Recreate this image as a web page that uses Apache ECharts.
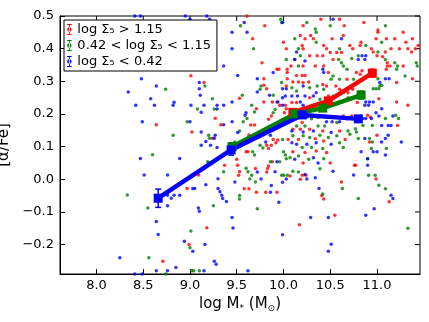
<!DOCTYPE html>
<html>
<head>
<meta charset="utf-8">
<script src="https://cdn.jsdelivr.net/npm/echarts@6/dist/echarts.min.js"></script>
<style>
html,body{margin:0;padding:0;background:#fff}
#main{width:429px;height:322px}
</style>
</head>
<body>
<div id="main"></div>
<script>
// galaxies, [log M*, [alpha/Fe]], split by environment density
const redPts=[
[9.10,0.347],[9.01,0.317],[9.15,0.296],[9.27,0.187],[8.64,0.167],[9.33,0.167],[9.02,0.145],[9.24,0.126],[9.37,0.043],[9.09,0.013],
[8.97,-0.028],[9.18,-0.148],[8.99,-0.20],[8.71,-0.251],[9.61,0.50],
[9.80,0.47],[9.67,0.43],[10.0,0.42],[10.03,0.40],[9.77,0.357],[9.93,0.337],[9.95,0.337],[10.04,0.337],[10.04,0.327],[9.79,0.308],
[10.04,0.308],[9.79,0.288],[9.82,0.277],[10.03,0.286],[9.53,0.248],[9.88,0.237],[9.93,0.237],[9.96,0.227],[9.79,0.237],[9.71,0.216],
[10.02,0.227],[10.03,0.216],[10.01,0.204],[9.65,0.166],[9.69,0.166],[9.84,0.184],[9.87,0.194],[9.63,0.136],[9.89,0.122],[9.94,0.12],
[9.92,0.112],[10.05,0.122],[9.82,0.104],[9.84,0.094],[9.60,0.084],[9.62,0.084],[9.87,0.104],[9.88,0.054],[9.84,0.041],[9.50,0.061],
[9.51,0.043],[9.53,0.023],[9.52,0.012],[9.70,0.033],[9.82,0.022],[9.83,0.033],[9.58,-0.029],[9.63,-0.029],[9.71,-0.04],[9.81,-0.04],[9.93,-0.04],
[10.40,0.49],[10.60,0.49],[10.21,0.47],[10.65,0.47],[10.18,0.44],[10.23,0.43],[10.29,0.44],[10.32,0.43],[10.52,0.43],[10.64,0.44],
[10.20,0.41],[10.21,0.40],[10.43,0.41],[10.46,0.40],[10.71,0.41],[10.74,0.40],[10.50,0.388],[10.57,0.388],[10.62,0.388],[10.28,0.378],
[10.36,0.378],[10.42,0.378],[10.53,0.367],[10.21,0.347],[10.08,0.347],[10.34,0.347],[10.43,0.347],[10.48,0.327],[10.14,0.318],[10.20,0.318],
[10.23,0.318],[10.68,0.306],[10.10,0.298],[10.16,0.298],[10.21,0.296],[10.27,0.298],[10.42,0.29],[10.46,0.286],[10.56,0.286],[10.60,0.276],
[10.69,0.265],[10.74,0.276],[10.28,0.25],[10.48,0.255],[10.09,0.235],[10.14,0.235],[10.09,0.19],[10.14,0.185],[10.20,0.174],[10.43,0.194],
[10.48,0.19],[10.57,0.19],[10.64,0.194],[10.68,0.185],[10.73,0.194],[10.10,0.153],[10.18,0.153],[10.28,0.153],[10.42,0.148],[10.60,0.148],
[10.16,0.122],[10.34,0.124],[10.43,0.117],[10.66,0.122],[10.10,0.084],[10.23,0.082],[10.35,0.087],[10.46,0.082],[10.21,0.05],[10.50,0.05],
[10.07,0.01],[10.18,0.0],[10.62,-0.008],[10.43,-0.06],[10.55,-0.11],[10.17,-0.139],[10.20,0.012],[10.24,0.012],[10.41,-0.05],[10.76,0.043],
[10.86,0.48],[11.01,0.457],[11.01,0.45],[11.28,0.45],[10.99,0.43],[11.10,0.43],[11.19,0.43],[11.38,0.43],[10.83,0.42],[10.82,0.41],
[11.31,0.42],[11.44,0.41],[11.41,0.40],[10.94,0.40],[11.15,0.40],[11.24,0.40],[11.33,0.40],[10.96,0.39],[11.09,0.39],[11.37,0.39],
[11.0,0.378],[11.06,0.375],[11.11,0.357],[11.11,0.347],[11.14,0.347],[11.10,0.337],[11.28,0.347],[10.78,0.327],[10.82,0.322],[10.84,0.332],
[11.38,0.308],[11.21,0.296],[11.02,0.247],[10.79,0.235],[11.21,0.237],[11.33,0.227],[10.90,0.196],[10.93,0.19],[11.22,0.165],[11.0,0.135],
[10.92,0.114],[10.77,0.043],[10.99,0.001],[11.13,-0.069]
];
const greenPts=[
[8.60,0.075],[8.33,-0.048],[8.55,-0.088],[8.56,-0.24],[8.74,0.276],[9.16,0.286],[9.24,0.247],[9.08,0.215],[9.26,0.215],[8.97,0.176],
[8.82,0.135],[9.20,0.135],[9.21,0.126],[9.19,0.054],[9.36,0.023],[9.25,-0.081],[9.01,-0.158],[9.0,-0.21],[9.02,-0.28],[9.04,-0.28],
[8.74,-0.29],[9.10,-0.28],
[9.54,0.47],[9.97,0.49],[9.98,0.48],[9.68,0.40],[10.03,0.367],[9.76,0.286],[9.75,0.276],[9.98,0.296],[9.89,0.257],[9.56,0.257],
[9.66,0.227],[9.69,0.206],[9.91,0.214],[9.89,0.204],[9.57,0.176],[9.61,0.186],[9.53,0.148],[9.48,0.114],[9.99,0.122],[9.75,0.104],
[9.78,0.096],[9.67,0.084],[9.69,0.074],[10.0,0.084],[10.02,0.074],[10.03,0.063],[9.96,0.054],[9.60,0.034],[9.62,0.023],[9.66,0.012],
[9.64,0.001],[9.98,0.012],[10.0,0.012],[10.04,0.012],[9.70,-0.008],[9.53,-0.05],[9.53,-0.06],[9.72,-0.09],[9.86,0.054],
[10.25,0.48],[10.50,0.47],[10.34,0.46],[10.35,0.45],[10.12,0.43],[10.35,0.42],[10.16,0.40],[10.60,0.40],[10.18,0.378],[10.12,0.367],
[10.59,0.367],[10.62,0.357],[10.73,0.37],[10.16,0.347],[10.64,0.347],[10.68,0.337],[10.53,0.316],[10.51,0.306],[10.60,0.306],[10.75,0.306],
[10.36,0.286],[10.43,0.276],[10.28,0.28],[10.09,0.28],[10.14,0.27],[10.53,0.255],[10.64,0.265],[10.69,0.25],[10.39,0.245],[10.43,0.235],
[10.25,0.19],[10.30,0.185],[10.37,0.19],[10.14,0.163],[10.23,0.163],[10.37,0.163],[10.44,0.163],[10.57,0.174],[10.69,0.148],[10.71,0.138],
[10.10,0.133],[10.21,0.133],[10.28,0.128],[10.39,0.135],[10.48,0.128],[10.57,0.133],[10.20,0.097],[10.30,0.097],[10.42,0.094],[10.60,0.112],
[10.64,0.097],[10.07,0.066],[10.16,0.071],[10.27,0.061],[10.43,0.063],[10.10,0.025],[10.16,0.022],[10.39,0.032],[10.63,-0.028],[10.42,-0.045],
[11.09,0.47],[10.88,0.41],[11.05,0.42],[11.01,0.39],[10.80,0.378],[11.09,0.367],[11.19,0.357],[11.22,0.347],[11.21,0.337],[11.42,0.357],
[11.43,0.347],[11.30,0.316],[11.01,0.308],[11.03,0.286],[11.05,0.288],[10.96,0.277],[10.99,0.277],[11.02,0.277],[11.20,0.196],[11.23,0.186],
[11.09,0.186],[10.85,0.165],[10.95,0.165],[10.77,0.155],[10.78,0.145],[10.80,0.125],[10.92,0.125],[10.95,0.114],[10.94,0.094],[11.10,0.094],
[10.91,0.012],[10.98,0.012],[11.02,-0.018],[11.09,-0.029],[10.80,-0.059],[11.33,-0.15],[10.90,0.063]
];
const bluePts=[
[8.41,0.50],[8.47,0.50],[8.95,0.50],[9.0,0.49],[9.18,0.50],[9.21,0.49],
[8.48,0.308],[8.34,0.267],[8.58,0.247],[8.42,0.227],[8.62,0.227],[8.49,0.176],[8.47,0.064],[8.51,0.013],[8.25,-0.24],[8.41,-0.29],[8.49,-0.29],
[9.08,0.367],[9.36,0.347],[8.64,0.286],[9.10,0.296],[9.10,0.277],[9.11,0.257],[8.83,0.236],[8.82,0.227],[9.01,0.227],[9.15,0.227],
[9.29,0.227],[9.36,0.227],[9.12,0.205],[9.29,0.215],[9.0,0.176],[9.36,0.167],[9.12,0.145],[9.27,0.135],[9.26,0.126],[9.17,0.116],
[9.22,0.104],[9.12,0.104],[9.29,0.097],[8.89,0.064],[8.76,0.013],[9.30,0.002],[9.17,-0.017],[9.03,-0.028],[9.05,-0.028],[9.30,-0.028],
[9.32,-0.038],[9.34,-0.049],[9.35,-0.059],[8.76,-0.049],[8.83,-0.049],[8.89,-0.049],[8.80,-0.058],[8.76,-0.081],[9.09,-0.088],[9.10,-0.098],
[8.66,-0.169],[8.94,-0.19],[9.16,-0.20],[9.03,-0.22],[9.26,-0.251],[9.28,-0.26],[8.85,-0.27],[8.76,-0.28],[9.15,-0.28],[8.64,-0.28],
[8.64,-0.129],[9.39,-0.068],
[9.58,0.48],[9.99,0.48],[9.45,0.45],[9.61,0.45],[9.45,0.40],[9.89,0.327],[9.51,0.318],[9.72,0.308],[9.99,0.277],[10.03,0.277],
[9.45,0.237],[9.72,0.267],[9.85,0.257],[9.99,0.25],[10.02,0.255],[9.94,0.237],[9.99,0.227],[9.60,0.204],[9.59,0.196],[9.45,0.176],
[9.51,0.143],[9.82,0.148],[9.86,0.135],[9.81,0.114],[9.93,0.054],[9.72,0.022],[9.91,0.023],[10.03,0.001],[9.99,-0.009],[9.76,0.001],
[9.48,-0.008],[9.86,-0.04],[9.45,-0.117],[9.46,-0.149],[9.99,-0.17],[9.62,-0.28],[9.87,-0.019],[9.95,-0.07],
[10.53,0.49],[10.62,0.43],[10.14,0.39],[10.12,0.367],[10.23,0.362],[10.42,0.337],[10.43,0.327],[10.21,0.286],[10.09,0.255],[10.15,0.255],
[10.23,0.255],[10.32,0.255],[10.35,0.265],[10.18,0.237],[10.21,0.227],[10.46,0.176],[10.52,0.176],[10.60,0.176],[10.09,0.148],[10.21,0.145],
[10.32,0.148],[10.51,0.143],[10.09,0.112],[10.14,0.107],[10.25,0.107],[10.35,0.112],[10.51,0.107],[10.12,0.061],[10.32,0.066],[10.37,0.05],
[10.23,0.015],[10.34,0.005],[10.25,0.001],[10.53,0.025],[10.38,-0.028],[10.29,-0.117],[10.48,-0.117],[10.51,-0.199],[10.48,-0.22],[10.75,0.013],
[10.80,0.367],[10.87,0.367],[10.84,0.378],[10.88,0.378],[11.09,0.308],[11.13,0.308],[11.03,0.296],[10.88,0.237],[10.92,0.237],[10.96,0.237],
[10.87,0.227],[10.91,0.227],[11.05,0.216],[10.99,0.204],[11.02,0.194],[10.85,0.186],[10.88,0.186],[10.94,0.186],[11.17,0.194],[11.05,0.165],
[11.12,0.165],[11.15,0.165],[11.12,0.135],[10.87,0.125],[11.09,0.125],[11.26,0.114],[11.05,0.114],[10.83,0.084],[10.96,0.084],[11.0,0.084],
[11.09,0.074],[10.90,0.063],[10.90,0.043],[11.15,-0.049],[11.17,-0.059],[10.97,-0.09],[10.88,-0.11]
];

// binned medians with errors: [x, y, err]
const redBins=[[10.10,0.205,0.01],[10.48,0.240,0.01],[10.95,0.325,0.012]];
const greenBins=[[9.45,0.100,0.012],[10.12,0.200,0.01],[10.42,0.218,0.01],[10.83,0.258,0.012]];
const blueBins=[[8.66,-0.058,0.028],[9.44,0.090,0.016],[10.20,0.197,0.01],[10.80,0.185,0.01]];

const names=['log Σ₅ > 1.15','0.42 < log Σ₅ < 1.15','log Σ₅ < 0.42'];
const colors=['#ff0000','#008000','#0000ff'];
const xTicks=[8.0,8.5,9.0,9.5,10.0,10.5,11.0];
const yTicks=[-0.2,-0.1,0.0,0.1,0.2,0.3,0.4,0.5];

const xMin=7.61,xMax=11.46,yMin=-0.29,yMax=0.5;
const font='DejaVu Sans';
const errIcon='path://M1,0H7V1.2H1Z M3.4,0H4.6V14H3.4Z M1,12.8H7V14H1Z M1.2,7A2.8,2.8,0,1,0,6.8,7A2.8,2.8,0,1,0,1.2,7Z';

const chart=echarts.init(document.getElementById('main'),null,{renderer:'canvas'});

function errItem(params,api){
  var x=api.value(0),y=api.value(1),e=api.value(2);
  var hi=api.coord([x,y+e]),lo=api.coord([x,y-e]);
  var st={stroke:api.visual('color'),lineWidth:1.5};
  return {type:'group',children:[
    {type:'line',shape:{x1:hi[0],y1:hi[1],x2:lo[0],y2:lo[1]},style:st},
    {type:'line',shape:{x1:hi[0]-3,y1:hi[1],x2:hi[0]+3,y2:hi[1]},style:st},
    {type:'line',shape:{x1:lo[0]-3,y1:lo[1],x2:lo[0]+3,y2:lo[1]},style:st}
  ]};
}

// inward ticks on the top and right edges of the frame
function edgeTicks(params,api){
  var kind=api.value(0),v=api.value(1);
  var st={stroke:'#000',lineWidth:1};
  if(kind===0){
    var p=api.coord([v,yMax]);
    return {type:'line',shape:{x1:p[0],y1:p[1],x2:p[0],y2:p[1]+5},style:st};
  }
  var q=api.coord([xMax,v]);
  return {type:'line',shape:{x1:q[0],y1:q[1],x2:q[0]-5,y2:q[1]},style:st};
}

function dots(data,i){
  return {type:'scatter',data:data,symbol:'circle',symbolSize:3.5,silent:true,
    itemStyle:{color:colors[i]},z:2};
}
function binLine(bins,i){
  return {type:'line',name:names[i],data:bins.map(b=>[b[0],b[1]]),symbol:'rect',symbolSize:9,
    showAllSymbol:true,lineStyle:{color:colors[i],width:4.5},itemStyle:{color:colors[i]},silent:true,z:3};
}
function binErr(bins,i){
  return {type:'custom',name:'err'+i,data:bins,renderItem:errItem,itemStyle:{color:colors[i]},silent:true,z:3};
}

const yFmt=v=>(v<-1e-9?'−':'')+Math.abs(v).toFixed(1);

var option={
  animation:false,
  grid:{left:60,top:16,right:9,bottom:48,
    outerBoundsContain:'axisLabel',outerBounds:{left:-30,top:-30,right:-30,bottom:-30},
    show:true,borderColor:'#000',borderWidth:1,backgroundColor:'transparent'},
  legend:{
    orient:'vertical',left:64,top:20,
    data:names.map(n=>({name:n,icon:errIcon})),
    itemWidth:6,itemHeight:11,itemGap:3,
    padding:[3,6,3,3],
    borderColor:'#000',borderWidth:1,backgroundColor:'#fff',
    selectedMode:false,
    textStyle:{fontFamily:font,fontSize:13,color:'#000'}
  },
  xAxis:{
    type:'value',min:xMin,max:xMax,splitNumber:8,
    name:'log M{s|*} (M{s|⊙})',nameLocation:'middle',nameGap:20,
    nameTextStyle:{fontFamily:font,fontSize:15,color:'#000',rich:{s:{fontSize:9,padding:[8,0,0,0],fontFamily:font,color:'#000'}}},
    axisLine:{show:true,onZero:false,lineStyle:{color:'#000',width:1}},
    axisTick:{show:true,inside:true,length:5,lineStyle:{color:'#000'}},
    axisLabel:{fontFamily:font,fontSize:13,color:'#000',margin:5,showMinLabel:false,showMaxLabel:false,
      formatter:v=>xTicks.some(t=>Math.abs(t-v)<1e-6)?v.toFixed(1):''},
    splitLine:{show:false}
  },
  yAxis:{
    type:'value',min:yMin,max:yMax,splitNumber:8,
    name:'[α/Fe]',nameLocation:'middle',nameGap:44,nameRotate:90,
    nameTextStyle:{fontFamily:font,fontSize:15,color:'#000'},
    axisLine:{show:true,lineStyle:{color:'#000',width:1}},
    axisTick:{show:true,inside:true,length:5,lineStyle:{color:'#000'}},
    axisLabel:{fontFamily:font,fontSize:13,color:'#000',margin:6,showMinLabel:false,formatter:yFmt},
    splitLine:{show:false}
  },
  series:[
    dots(redPts,0),dots(greenPts,1),dots(bluePts,2),
    binLine(redBins,0),binErr(redBins,0),
    binLine(greenBins,1),binErr(greenBins,1),
    binLine(blueBins,2),binErr(blueBins,2),
    {type:'custom',name:'edge',silent:true,z:1,clip:false,renderItem:edgeTicks,
      data:xTicks.map(v=>[0,v]).concat(yTicks.map(v=>[1,v]))}
  ]
};
chart.setOption(option);
</script>
</body>
</html>
